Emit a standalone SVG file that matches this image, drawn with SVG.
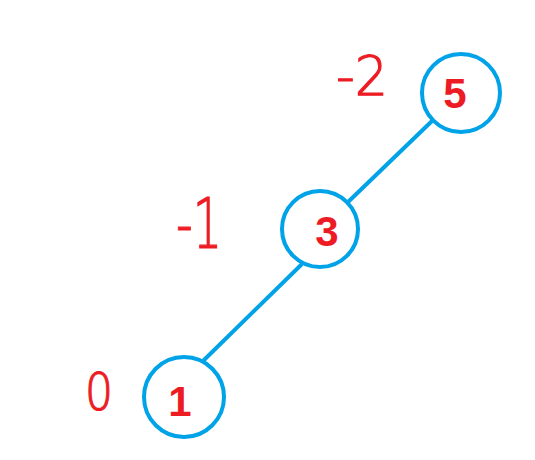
<svg xmlns="http://www.w3.org/2000/svg" width="535" height="460" viewBox="0 0 535 460">
<style>
.node{fill:#ffffff;stroke:#00a2e8;stroke-width:4}
.edge{stroke:#00a2e8;stroke-width:4;fill:none}
.lbl{font-family:"Liberation Sans",Arial,sans-serif;font-weight:bold;font-size:42px;fill:#ed1c24;text-anchor:middle}
.ann{font-family:"DejaVu Sans","Liberation Sans",sans-serif;font-weight:200;fill:#ed1c24;stroke:#ed1c24;stroke-width:1.2}
</style>
<rect width="535" height="460" fill="#ffffff"/>
<g id="connectors">
<line class="edge" x1="432" y1="121" x2="347" y2="203"/>
<line class="edge" x1="302" y1="264" x2="203" y2="361"/>
</g>
<g id="node5">
<circle class="node" cx="461" cy="93" r="39"/>
<text class="lbl" x="455" y="108">5</text>
</g>
<g id="node3">
<circle class="node" cx="320" cy="229" r="38"/>
<text class="lbl" x="327" y="246">3</text>
</g>
<g id="node1">
<circle class="node" cx="184" cy="397" r="40"/>
<text class="lbl" x="180" y="416">1</text>
</g>
<g id="annotations">
<text class="ann" x="336" y="95" font-size="56" textLength="52" lengthAdjust="spacingAndGlyphs">-2</text>
<text class="ann" x="176" y="248" font-size="70" textLength="46" lengthAdjust="spacingAndGlyphs">-1</text>
<text class="ann" x="85" y="410" font-size="52" textLength="28" lengthAdjust="spacingAndGlyphs">0</text>
</g>
</svg>
